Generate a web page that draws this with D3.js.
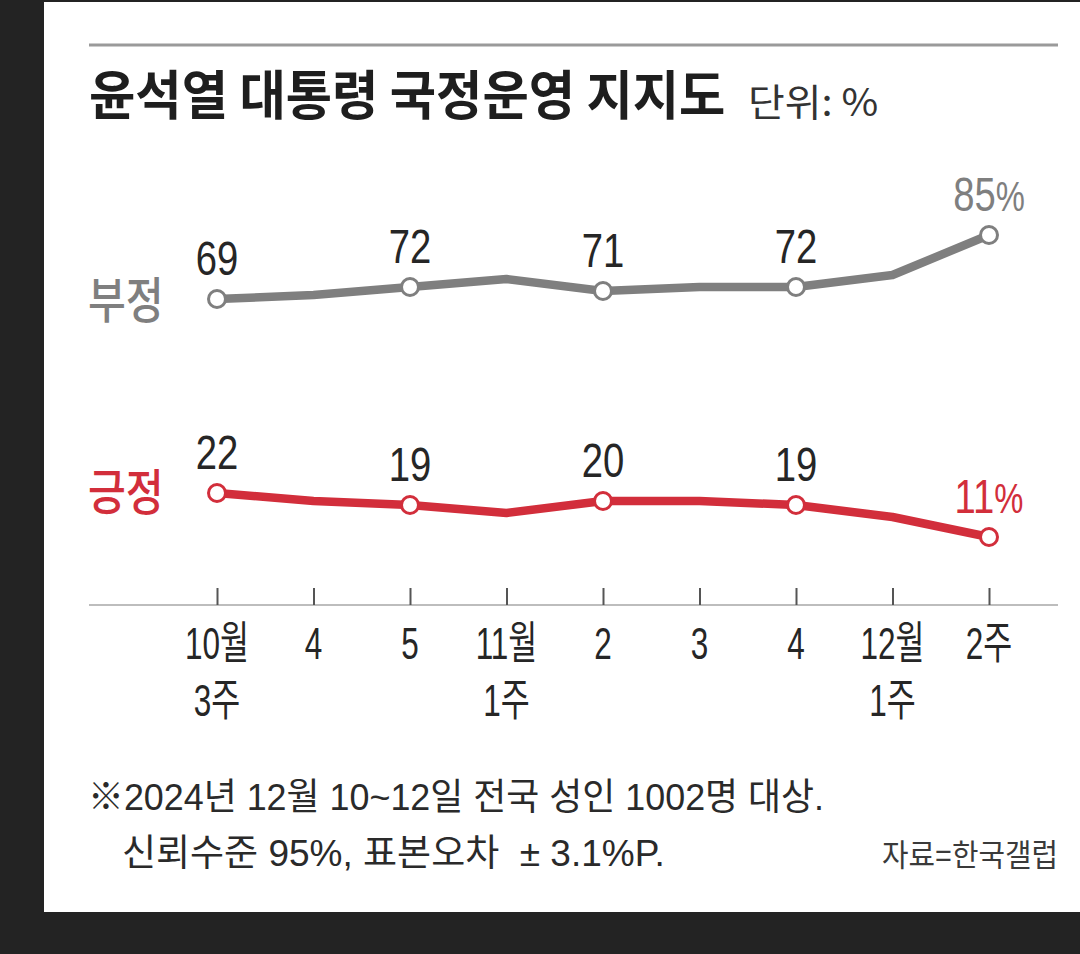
<!DOCTYPE html>
<html>
<head>
<meta charset="utf-8">
<script src="https://cdn.jsdelivr.net/npm/d3@7"></script>
<style>
  html, body { margin: 0; padding: 0; background: #232323; }
  svg { display: block; }
</style>
</head>
<body>
<svg id="chart"></svg>
<script>
var weeks = ["10월 3주", "4", "5", "11월 1주", "2", "3", "4", "12월 1주", "2주"];
var tickTop = ["10월", "4", "5", "11월", "2", "3", "4", "12월", "2주"];
var tickBottom = ["3주", "", "", "1주", "", "", "", "1주", ""];
var negative = [69, 70, 72, 74, 71, 72, 72, 75, 85];
var positive = [22, 20, 19, 17, 20, 20, 19, 16, 11];
var labeled = [0, 2, 4, 6, 8];

var W = 1080, H = 954;
var GRAY = "#7f7f7f", RED = "#d22e3b", INK = "#262626";
var FONT = "'Liberation Sans', 'Noto Sans CJK KR', sans-serif";

var svg = d3.select("#chart").attr("width", W).attr("height", H);

// panel
svg.append("rect").attr("x", 44).attr("y", 2).attr("width", W - 44).attr("height", 910)
  .attr("fill", "#fff");

var x = d3.scalePoint().domain(d3.range(weeks.length)).range([217, 989]);
var yNeg = d3.scaleLinear().domain([60, 90]).range([335, 215]);
var yPos = d3.scaleLinear().domain([0, 30]).range([581, 461]);

// condensed text helper
function label(g, txt, px, py, opt) {
  return g.append("text")
    .attr("transform", "translate(" + px + "," + py + ") scale(" + (opt.sx || 1) + ",1)")
    .attr("text-anchor", opt.anchor || "start")
    .attr("font-family", opt.family || FONT)
    .attr("font-size", opt.size)
    .attr("font-weight", opt.weight || 400)
    .attr("fill", opt.color || INK)
    .style("white-space", "pre")
    .text(txt);
}

// top rule
svg.append("line").attr("x1", 89).attr("x2", 1058).attr("y1", 45).attr("y2", 45)
  .attr("stroke", "#9a9a9a").attr("stroke-width", 3);

label(svg, "윤석열 대통령 국정운영 지지도", 89, 115,
  { size: 53, weight: 700, sx: 0.95, color: "#1e1e1e", family: "'Noto Sans CJK KR', sans-serif" });
label(svg, "단위: %", 748, 116,
  { size: 38, sx: 1.05, color: "#333", family: "'Noto Sans CJK KR', sans-serif" });

// axis
svg.append("line").attr("x1", 89).attr("x2", 1058).attr("y1", 605).attr("y2", 605)
  .attr("stroke", "#bdbdbd").attr("stroke-width", 2);

var axis = svg.append("g").attr("transform", "translate(0,605)")
  .call(d3.axisBottom(x).tickSize(-17).tickFormat(""));
axis.select(".domain").remove();
axis.selectAll(".tick line").attr("stroke", "#555").attr("stroke-width", 2);

var tl = svg.append("g");
tickTop.forEach(function(t, i) {
  label(tl, t, x(i), 659, { size: 45, sx: 0.7, anchor: "middle", color: INK });
  if (tickBottom[i]) label(tl, tickBottom[i], x(i), 716, { size: 45, sx: 0.7, anchor: "middle", color: INK });
});

// series
var series = [
  { name: "부정", values: negative, y: yNeg, color: GRAY, labelY: 318 },
  { name: "긍정", values: positive, y: yPos, color: RED, labelY: 510 }
];

series.forEach(function(s) {
  var line = d3.line()
    .x(function(d, i) { return x(i); })
    .y(function(d) { return s.y(d); });

  svg.append("path").datum(s.values)
    .attr("d", line)
    .attr("fill", "none")
    .attr("stroke", s.color)
    .attr("stroke-width", 8.5)
    .attr("stroke-linejoin", "round");

  svg.selectAll(null).data(labeled).enter().append("circle")
    .attr("cx", function(i) { return x(i); })
    .attr("cy", function(i) { return s.y(s.values[i]); })
    .attr("r", 8.5)
    .attr("fill", "#fff")
    .attr("stroke", s.color)
    .attr("stroke-width", 3);

  var vl = svg.append("g");
  labeled.forEach(function(i) {
    var last = i === s.values.length - 1;
    var t = label(vl, "", x(i), s.y(s.values[i]) - 24,
      { size: 49, sx: 0.78, anchor: "middle", color: last ? s.color : INK });
    t.append("tspan").text(s.values[i]);
    if (last) t.append("tspan").attr("font-size", 42).attr("font-weight", 300).text("%");
  });

  label(svg, s.name, 88, s.labelY,
    { size: 49, sx: 0.84, weight: 500, color: s.color, family: "'Noto Sans CJK KR', sans-serif" });
});

// notes
label(svg, "※2024년 12월 10~12일 전국 성인 1002명 대상.", 88, 810, { size: 37, sx: 0.97, color: "#2a2a2a" });
label(svg, "신뢰수준 95%, 표본오차  ± 3.1%P.", 122, 866, { size: 37, sx: 1.0, color: "#2a2a2a" });
label(svg, "자료=한국갤럽", 1058, 866, { size: 31, sx: 0.93, anchor: "end", color: "#3a3a3a" });
</script>
</body>
</html>
